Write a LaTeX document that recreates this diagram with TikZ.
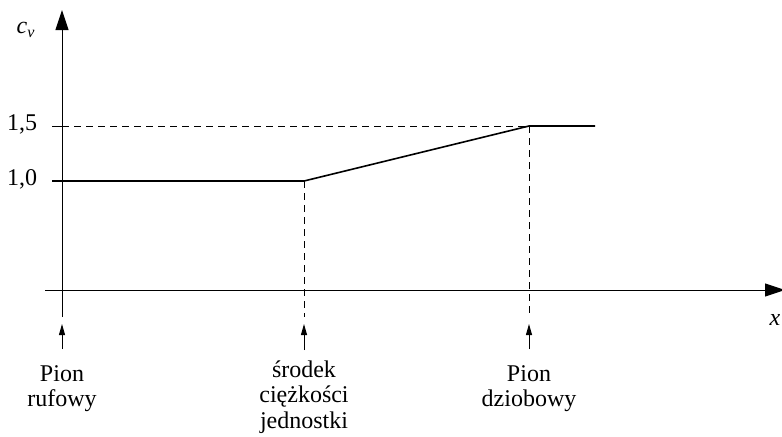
\documentclass[tikz,border=0pt]{standalone}
\usepackage{fontspec}
\setmainfont{Liberation Serif}
\usetikzlibrary{arrows.meta}

\begin{document}
\begin{tikzpicture}[x=0.5pt,y=-0.5pt,
    axis/.style={line width=0.5pt,-{Triangle[length=10pt,width=6.5pt]}},
    guide/.style={line width=0.5pt,dash pattern=on 3.5pt off 2.5pt},
    curve/.style={line width=0.8pt},
    pointer/.style={line width=0.5pt,-{Triangle[length=5.5pt,width=3pt]},shorten <=8pt},
    lbl/.style={font=\fontsize{12}{12.8}\selectfont,align=center,inner sep=0pt}]
    \useasboundingbox (0,0) rectangle (782,436);
    % Draw axes
    \coordinate (ybot) at (62,317);
    \coordinate (ytop) at (62,10);
    \coordinate (xleft) at (45,290);
    \coordinate (xright) at (785,290);
    \draw[axis] (ybot) -- (ytop);
    \draw[axis] (xleft) -- (xright);
    % Points of the c_v line
    \coordinate (t10) at (52,181);
    \coordinate (A) at (62,181);
    \coordinate (B) at (304,181);
    \coordinate (C) at (529,126);
    \coordinate (D) at (595,126);
    \coordinate (t15) at (52,126);
    \coordinate (A15) at (62,126);
    \draw[curve] (t10) -- (A) -- (B) -- (C) -- (D);
    % Dashed guides
    \draw[line width=0.5pt] (t15) -- (A15);
    \draw[guide] (A15) -- (C);
    \draw[guide] (B) -- (B |- ybot);
    \draw[guide] (C) -- (C |- ybot);
    % Axis labels
    \node[lbl] (cv) at (26,30) {\textit{c}\textsubscript{\textit{v}}};
    \node[lbl] (xlab) at (775,320) {\textit{x}};
    \node[lbl] (v15) at (22,124) {1,5};
    \node[lbl] (v10) at (22,179) {1,0};
    % Label the positions along x
    \coordinate (tipA) at (62,324);
    \coordinate (tipB) at (304,324);
    \coordinate (tipC) at (529,324);
    \node[lbl,anchor=north] (rufa) at (62,365) {Pion\\rufowy};
    \node[lbl,anchor=north] (srodek) at (304,360) {środek\\ciężkości\\jednostki};
    \node[lbl,anchor=north] (dziob) at (529,365) {Pion\\dziobowy};
    \draw[pointer] (rufa.north) -- (tipA);
    \draw[pointer,shorten <=5pt] (srodek.north) -- (tipB);
    \draw[pointer] (dziob.north) -- (tipC);
\end{tikzpicture}
\end{document}
